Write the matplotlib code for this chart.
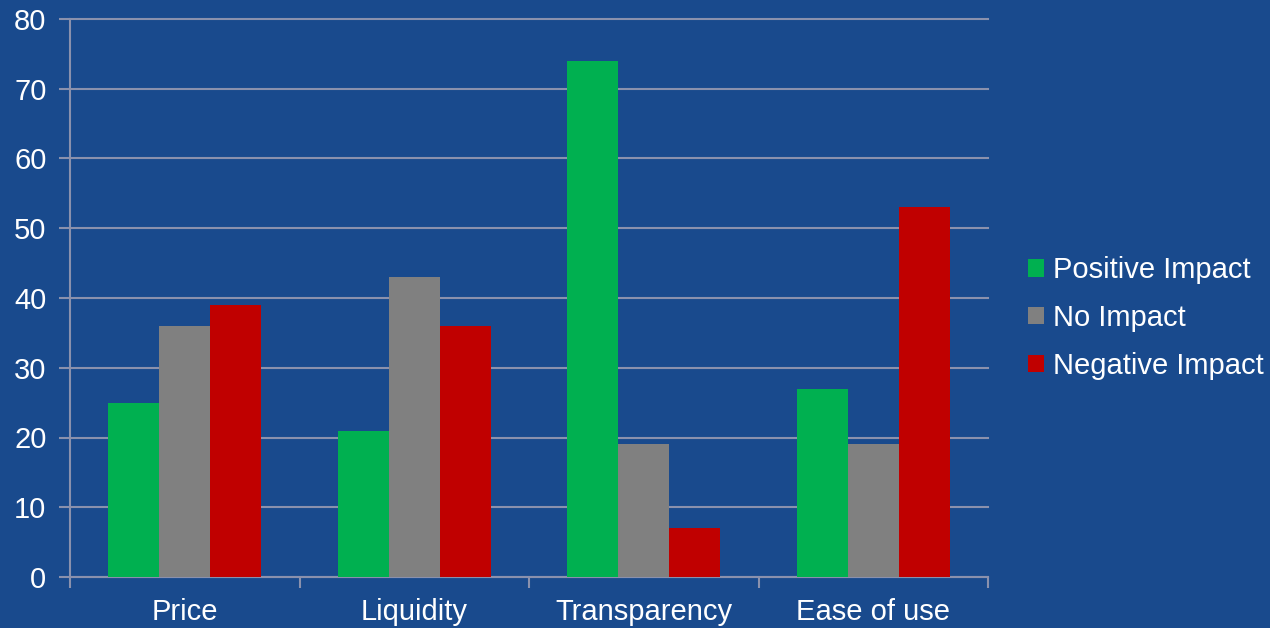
import numpy as np
import matplotlib.pyplot as plt

# Data
categories = ['Price', 'Liquidity', 'Transparency', 'Ease of use']
positive = [25, 21, 74, 27]
no_impact = [36, 43, 19, 19]
negative = [39, 36, 7, 53]
series_names = ['Positive Impact', 'No Impact', 'Negative Impact']
colors = ['#00B050', '#808080', '#C00000']

bg = '#194A8D'
grid_col = '#8A91AD'

plt.rcParams['font.family'] = ['Liberation Sans', 'DejaVu Sans']

fig = plt.figure(figsize=(12.7, 6.28), dpi=100, facecolor=bg)
ax = fig.add_axes([70 / 1270, 1 - 577 / 628, (988 - 70) / 1270, (577 - 19) / 628])
ax.set_facecolor(bg)

x = np.arange(len(categories))
w = 0.222
for i, (vals, name) in enumerate(zip([positive, no_impact, negative], series_names)):
    ax.bar(x + (i - 1) * w, vals, w, color=colors[i], label=name, zorder=3)

ax.set_xlim(-0.5, 3.5)
ax.set_ylim(0, 80)
ax.set_yticks(range(0, 81, 10))
ax.grid(axis='y', color=grid_col, linewidth=1.5, zorder=0)
for gl in ax.get_ygridlines():
    gl.set_clip_on(False)

ax.set_xticks(x)
ax.set_xticklabels(categories)
ax.set_xticks(np.arange(-0.5, 4, 1), minor=True)
ax.tick_params(axis='x', which='major', length=0, pad=15, labelsize=21, labelcolor='white')
ax.tick_params(axis='x', which='minor', length=8, width=1.5, color=grid_col)
ax.tick_params(axis='y', length=8, width=1.5, color=grid_col, labelsize=21, labelcolor='white', pad=9)

for s in ['top', 'right']:
    ax.spines[s].set_visible(False)
for s in ['left', 'bottom']:
    ax.spines[s].set_color(grid_col)
    ax.spines[s].set_linewidth(1.5)

leg = ax.legend(loc='center left', bbox_to_anchor=(1028 / 1270, 1 - 318 / 628), bbox_transform=fig.transFigure,
                frameon=False, fontsize=21, labelcolor='white', handlelength=0.55, handleheight=0.55,
                handletextpad=0.3, labelspacing=0.68, borderaxespad=0, borderpad=0)

fig.savefig('out.png', dpi=100, facecolor=bg)
